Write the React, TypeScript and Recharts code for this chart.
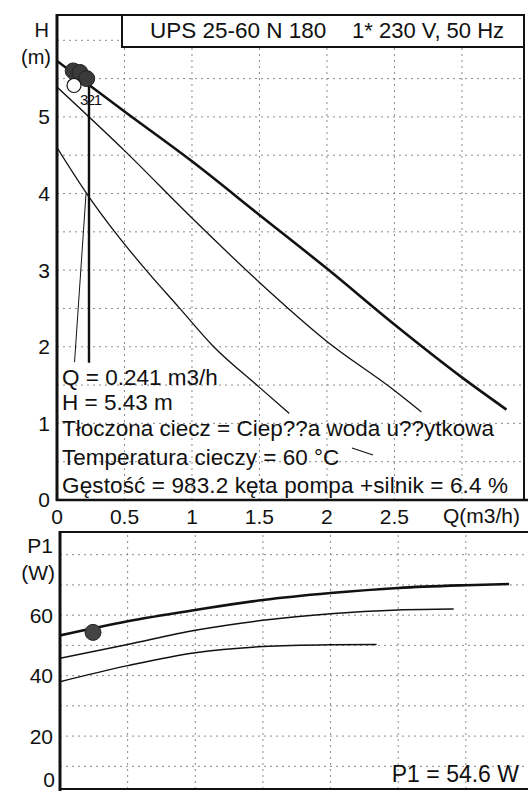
import React from 'react';
import { LineChart, Line, XAxis, YAxis, ReferenceLine, ReferenceDot } from 'recharts';

// ---- axis ticks / grid ----
const qTicks = [0, 0.5, 1, 1.5, 2, 2.5];
const qGrid = [0.5, 1, 1.5, 2, 2.5, 3];
const hTicks = [0, 1, 2, 3, 4, 5];
const hGrid = [0.5, 1, 1.5, 2, 2.5, 3, 3.5, 4, 4.5, 5, 5.5, 6];
const pTicks = [20, 40, 60];
const pGrid = [10, 20, 30, 40, 50, 60, 70, 80];

// ---- H(Q) curves ----
const h1Q = [0, 0.5, 1, 1.5, 2, 2.5, 3, 3.33];
const h1H = [5.73, 5.07, 4.42, 3.72, 3.02, 2.29, 1.6, 1.18];
const h2Q = [0, 0.5, 1, 1.5, 2, 2.5, 2.7];
const h2H = [5.39, 4.56, 3.68, 2.84, 2.07, 1.43, 1.15];
const h3Q = [0, 0.22, 0.45, 0.66, 0.9, 1.15, 1.5, 1.72];
const h3H = [4.6, 4.0, 3.45, 3.0, 2.52, 2.02, 1.47, 1.13];

// duty point construction lines
const dropQ = [0.237, 0.237];
const dropH = [5.43, 1.79];
const slantQ = [0.215, 0.13];
const slantH = [4.0, 1.8];

// duty point marker blob
const blobQ = [0.12, 0.17, 0.22];
const blobH = [5.6, 5.58, 5.5];
const ringQ = 0.126;
const ringH = 5.41;

// ---- P1(Q) curves ----
const p1Q = [0, 0.5, 1, 1.5, 2, 2.5, 3, 3.32];
const p1P = [53.3, 58, 61.7, 65, 67.3, 69, 69.9, 70.3];
const p2Q = [0, 0.5, 1, 1.5, 2, 2.5, 2.91];
const p2P = [45.7, 50.3, 55, 58.3, 60.5, 61.7, 62];
const p3Q = [0, 0.5, 1, 1.5, 2, 2.34];
const p3P = [38, 43.3, 47.6, 49.6, 50.2, 50.3];

const opQ = 0.244;
const opP = 54.3;

const zip = (xs: number[], ys: number[], key: string) =>
  xs.map((x, i) => ({ q: x, [key]: ys[i] }));

const FONT = '"Liberation Sans", Arial, sans-serif';
const INK = '#111';
const gridStroke = '#8a8a8a';
const gridDash = '2 4';

export default function App() {
  const tickStyle = { fontSize: 21, fill: INK, fontFamily: FONT };
  return (
    <div style={{ position: 'absolute', left: 0, top: 0, width: 528, height: 791, overflow: 'hidden', background: '#fff' }}>
      {/* upper chart H(Q) */}
      <div style={{ position: 'absolute', left: 0, top: 0 }}>
        <LineChart width={528} height={530} margin={{ top: 15, right: 4, bottom: 10, left: 0 }}>
          <XAxis
            type="number"
            dataKey="q"
            domain={[0, 3.46]}
            ticks={qTicks}
            allowDataOverflow
            height={20}
            axisLine={false}
            tickLine={false}
            tickSize={0}
            tickMargin={9}
            tick={tickStyle}
            interval={0}
          />
          <YAxis
            type="number"
            domain={[0, 6.33]}
            ticks={hTicks}
            allowDataOverflow
            width={57}
            axisLine={false}
            tickLine={false}
            tickSize={0}
            tickMargin={7}
            tick={tickStyle}
            interval={0}
          />
          {hGrid.map((v) => (
            <ReferenceLine key={'hg' + v} y={v} stroke={gridStroke} strokeDasharray={gridDash} />
          ))}
          {qGrid.map((v) => (
            <ReferenceLine key={'qg' + v} x={v} stroke={gridStroke} strokeDasharray={gridDash} />
          ))}
          <Line data={zip(h3Q, h3H, 'h')} dataKey="h" type="monotone" stroke={INK} strokeWidth={1.3} dot={false} activeDot={false} isAnimationActive={false} />
          <Line data={zip(h2Q, h2H, 'h')} dataKey="h" type="monotone" stroke={INK} strokeWidth={1.3} dot={false} activeDot={false} isAnimationActive={false} />
          <Line data={zip(h1Q, h1H, 'h')} dataKey="h" type="monotone" stroke={INK} strokeWidth={2.6} dot={false} activeDot={false} isAnimationActive={false} />
          <Line data={zip(slantQ, slantH, 'h')} dataKey="h" type="linear" stroke={INK} strokeWidth={1} dot={false} activeDot={false} isAnimationActive={false} />
          <Line data={zip(dropQ, dropH, 'h')} dataKey="h" type="linear" stroke={INK} strokeWidth={2.4} dot={false} activeDot={false} isAnimationActive={false} />
          {blobQ.map((q, i) => (
            <ReferenceDot key={'b' + i} x={q} y={blobH[i]} r={8} fill="#3a3a3a" stroke="#222" strokeWidth={1} />
          ))}
          <ReferenceDot x={ringQ} y={ringH} r={7} fill="#fff" stroke={INK} strokeWidth={1.2} />
        </LineChart>
      </div>

      {/* lower chart P1(Q) */}
      <div style={{ position: 'absolute', left: 0, top: 500 }}>
        <LineChart width={528} height={300} margin={{ top: 32, right: 4, bottom: 11, left: 0 }}>
          <XAxis type="number" dataKey="q" domain={[0, 3.43]} allowDataOverflow hide />
          <YAxis
            type="number"
            domain={[2.5, 87.5]}
            ticks={pTicks}
            allowDataOverflow
            width={60}
            axisLine={false}
            tickLine={false}
            tickSize={0}
            tickMargin={7}
            tick={tickStyle}
            interval={0}
          />
          {pGrid.map((v) => (
            <ReferenceLine key={'pg' + v} y={v} stroke={gridStroke} strokeDasharray={gridDash} />
          ))}
          {qGrid.map((v) => (
            <ReferenceLine key={'qg2' + v} x={v} stroke={gridStroke} strokeDasharray={gridDash} />
          ))}
          <Line data={zip(p3Q, p3P, 'p')} dataKey="p" type="monotone" stroke={INK} strokeWidth={1.5} dot={false} activeDot={false} isAnimationActive={false} />
          <Line data={zip(p2Q, p2P, 'p')} dataKey="p" type="monotone" stroke={INK} strokeWidth={1.5} dot={false} activeDot={false} isAnimationActive={false} />
          <Line data={zip(p1Q, p1P, 'p')} dataKey="p" type="monotone" stroke={INK} strokeWidth={2.6} dot={false} activeDot={false} isAnimationActive={false} />
          <ReferenceDot x={opQ} y={opP} r={8} fill="#444" stroke="#222" strokeWidth={1} />
        </LineChart>
      </div>

      {/* frames and annotation text */}
      <svg width={528} height={791} style={{ position: 'absolute', left: 0, top: 0, pointerEvents: 'none' }} fontFamily={FONT}>
        {/* upper frame */}
        <line x1={57} y1={14} x2={57} y2={501} stroke={INK} strokeWidth={3} />
        <line x1={56} y1={15} x2={525} y2={15} stroke={INK} strokeWidth={2} />
        <line x1={524} y1={15} x2={524} y2={500} stroke={INK} strokeWidth={2} />
        <line x1={56} y1={500} x2={528} y2={500} stroke={INK} strokeWidth={2.5} />
        <rect x={122} y={15} width={402} height={32} fill="#fff" stroke={INK} strokeWidth={2} />
        <text x={150} y={38} fontSize={22.5} fill={INK}>UPS 25-60 N 180</text>
        <text x={352} y={38} fontSize={22} fill={INK}>1* 230 V, 50 Hz</text>

        <text x={49} y={37} fontSize={20} fill={INK} textAnchor="end">H</text>
        <text x={51} y={64} fontSize={20} fill={INK} textAnchor="end">(m)</text>
        <text x={520} y={523} fontSize={21} fill={INK} textAnchor="end">Q(m3/h)</text>

        <text x={80} y={105} fontSize={15} fill={INK} letterSpacing={-1.5}>321</text>

        <text x={62} y={385} fontSize={22.5} fill={INK}>Q = 0.241 m3/h</text>
        <text x={62} y={410} fontSize={22.5} fill={INK}>H = 5.43 m</text>
        <text x={62} y={436} fontSize={22.5} fill={INK}>Tłoczona ciecz = Ciep??a woda u??ytkowa</text>
        <text x={62} y={465} fontSize={22.5} fill={INK}>Temperatura cieczy = 60 °C</text>
        <line x1={352} y1={448} x2={373} y2={455} stroke={INK} strokeWidth={1.2} />
        <text x={62} y={493} fontSize={22.5} fill={INK} textLength={446} lengthAdjust="spacing">Gęstość = 983.2 kęta pompa +silnik = 6.4 %</text>

        {/* lower frame */}
        <line x1={60} y1={531} x2={60} y2={791} stroke={INK} strokeWidth={3} />
        <line x1={59} y1={532} x2={528} y2={532} stroke={INK} strokeWidth={2} />
        <line x1={59} y1={789} x2={528} y2={789} stroke={INK} strokeWidth={2} />
        <text x={53} y={553} fontSize={21} fill={INK} textAnchor="end">P1</text>
        <text x={55} y={580} fontSize={21} fill={INK} textAnchor="end">(W)</text>
        <text x={55} y={787} fontSize={21} fill={INK} textAnchor="end">0</text>
        <text x={519} y={782} fontSize={23} fill={INK} textAnchor="end">P1 = 54.6 W</text>
      </svg>
    </div>
  );
}
